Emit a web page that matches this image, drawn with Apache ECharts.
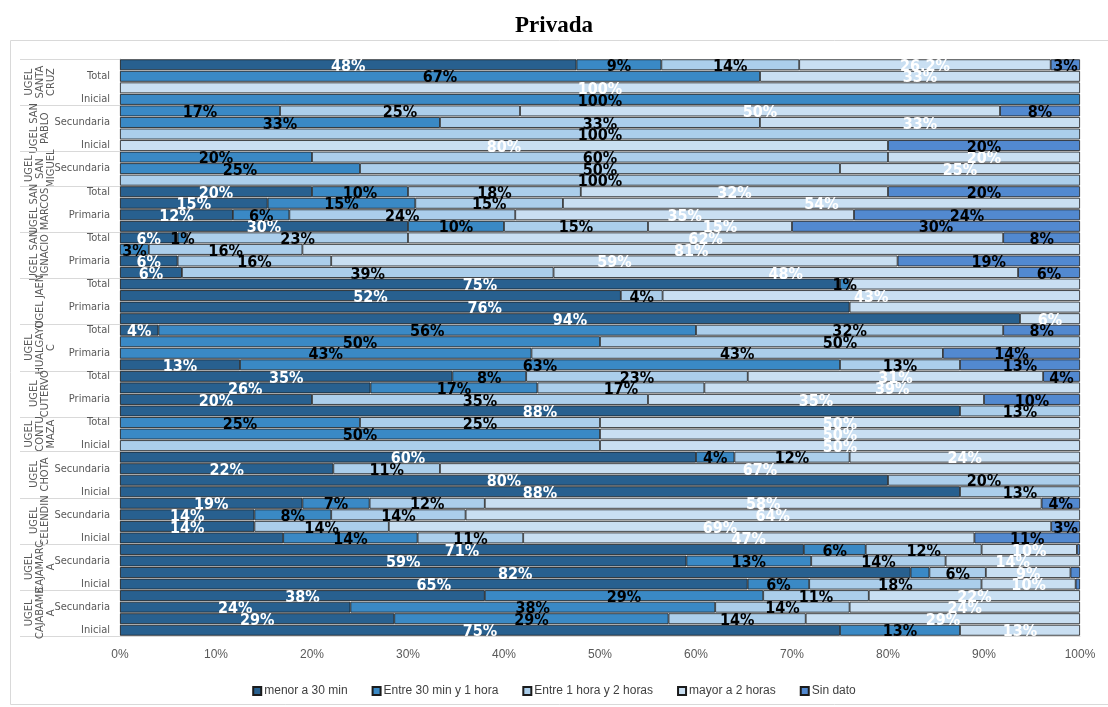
<!DOCTYPE html>
<html><head><meta charset="utf-8">
<script src="https://cdn.jsdelivr.net/npm/echarts/dist/echarts.min.js"></script>
<style>html,body{margin:0;padding:0;background:#fff}#c{width:1108px;height:707px}</style>
</head><body><div id="c"></div>
<script>
// ---- data (rows listed top to bottom) ----
const seriesNames = ['menor a 30 min', 'Entre 30 min y 1 hora', 'Entre 1 hora y 2 horas', 'mayor a 2 horas', 'Sin dato'];

const groupNames = ['UGEL\nSANTA\nCRUZ', 'UGEL SAN\nPABLO', 'UGEL\nSAN\nMIGUEL', 'UGEL SAN\nMARCOS', 'UGEL SAN\nIGNACIO', 'UGEL JAEN',
  'UGEL\nHUALGAYO\nC', 'UGEL\nCUTERVO', 'UGEL\nCONTU\nMAZA', 'UGEL\nCHOTA', 'UGEL\nCELENDIN', 'UGEL\nCAJAMARC\nA', 'UGEL\nCAJABAMB\nA'];

const groupLevels = [
  ['Total general', 'Total', 'Primaria', 'Inicial'],
  ['Total', 'Secundaria', 'Primaria', 'Inicial'],
  ['Total', 'Secundaria', 'Primaria'],
  ['Total', 'Secundaria', 'Primaria', 'Inicial'],
  ['Total', 'Secundaria', 'Primaria', 'Inicial'],
  ['Total', 'Secundaria', 'Primaria', 'Inicial'],
  ['Total', 'Secundaria', 'Primaria', 'Inicial'],
  ['Total', 'Secundaria', 'Primaria', 'Inicial'],
  ['Total', 'Primaria', 'Inicial'],
  ['Total', 'Secundaria', 'Primaria', 'Inicial'],
  ['Total', 'Secundaria', 'Primaria', 'Inicial'],
  ['Total', 'Secundaria', 'Primaria', 'Inicial'],
  ['Total', 'Secundaria', 'Primaria', 'Inicial']
];

const menor30 = [47.55,0,0,0, 0,0,0,0, 0,0,0, 20,15.38,11.76,30, 6,0,6,6.45, 75,52.17,76,93.75, 4,0,0,12.5,
  34.62,26.09,20,87.5, 0,0,0, 60,22.22,80,87.5, 19,14,14,17, 71.23,59,82.35,65.38, 38,24,28.57,75];
const entre30y1 = [8.84,66.67,0,100, 16.67,33.33,0,0, 20,25,0, 10,15.38,5.88,10, 1,3,0,0, 1,0,0,0, 56,50,42.86,62.5,
  7.69,17.39,0,0, 25,50,0, 4,0,0,0, 7,8,0,14, 6.45,13,1.96,6.41, 29,38,28.57,12.5];
const entre1y2 = [14.36,0,0,0, 25,33.33,100,0, 60,50,100, 18,15.38,23.53,15, 23,16,16,38.71, 0,4.35,0,0, 32,50,42.86,12.5,
  23.08,17.39,35,12.5, 25,0,50, 12,11.11,20,12.5, 12,14,14,11, 12.07,14,5.88,17.95, 11,14,14.29,0];
const mayor2 = [26.2,33.33,100,0, 50,33.34,0,80, 20,25,0, 32,53.86,35.29,15, 62,81,59,48.39, 24,43.48,24,6.25, 0,0,0,0,
  30.77,39.13,35,0, 50,50,50, 24,66.67,0,0, 58,64,69,47, 9.93,14,8.82,9.81, 22,24,28.57,12.5];
const sinDato = [3.05,0,0,0, 8.33,0,0,20, 0,0,0, 20,0,23.54,30, 8,0,19,6.45, 0,0,0,0, 8,0,14.28,12.5,
  3.84,0,10,0, 0,0,0, 0,0,0,0, 4,0,3,11, 0.32,0,0.99,0.45, 0,0,0,0];

// labels not printed in the original: [row, series]
const hiddenLabels = [[19,3],[21,3],[33,2],[41,0],[44,1],[44,4]];

const xTicks = [0,10,20,30,40,50,60,70,80,90,100];

// ---- build ----
const categories = [];
groupLevels.forEach((lv, gi) => lv.forEach(l => categories.push(gi + '|' + l)));
const seriesData = [menor30, entre30y1, entre1y2, mayor2, sinDato];
const colors = ['#28608F', '#3A89C5', '#ABCEEB', '#C9DFF2', '#5289D0'];
const labelColors = ['#ffffff', '#000000', '#000000', '#ffffff', '#000000'];
const NARROW = "'Liberation Sans Narrow', 'DejaVu Sans Condensed', sans-serif";

function fmtPct(v) {
  const s = String(v);
  const dec = s.includes('.') ? s.split('.')[1].length : 0;
  if (dec === 1 && !s.endsWith('.5')) return v.toFixed(1) + '%';
  return Math.round(v) + '%';
}

const series = seriesNames.map((name, si) => ({
  name, type: 'bar', stack: 'all',
  barCategoryGap: '6%',
  itemStyle: { color: colors[si], borderColor: '#1b1b1b', borderWidth: 0.8 },
  label: {
    show: true, position: 'inside', offset: [0, 2],
    color: labelColors[si], fontFamily: NARROW, fontWeight: 'bold', fontSize: 16,
    formatter: p => fmtPct(p.value)
  },
  data: seriesData[si].map((v, ri) => {
    if (!v) return '-';
    const hide = Math.round(v) === 0 || hiddenLabels.some(h => h[0] === ri && h[1] === si);
    return hide ? { value: v, label: { show: false } } : v;
  })
}));

const chart = echarts.init(document.getElementById('c'));
chart.setOption({
  animation: false,
  color: colors,
  title: { text: 'Privada', left: 'center', top: 10,
    textStyle: { fontFamily: "'Liberation Serif', serif", fontSize: 23, fontWeight: 'bold', color: '#000' } },
  grid: { left: 120, right: 28, top: 59, bottom: 71 },
  legend: {
    data: seriesNames, top: 680, left: 'center', icon: 'rect', itemWidth: 8, itemHeight: 8, itemGap: 24,
    textStyle: { fontFamily: "'Liberation Sans', sans-serif", fontSize: 12, color: '#404040', padding: [0, 0, 0, -2] }
  },
  xAxis: {
    type: 'value', min: xTicks[0], max: xTicks[xTicks.length - 1], interval: xTicks[1] - xTicks[0],
    axisLine: { show: true, lineStyle: { color: '#d9d9d9' } },
    axisTick: { show: false }, splitLine: { show: false },
    axisLabel: { formatter: '{value}%', color: '#595959', fontSize: 12, margin: 13, fontFamily: "'Liberation Sans', sans-serif" }
  },
  yAxis: {
    type: 'category', inverse: true, data: categories,
    axisLine: { show: true, lineStyle: { color: '#d9d9d9' } },
    axisTick: { show: false },
    axisLabel: { interval: (i) => i % 2 === 1, formatter: v => v.split('|')[1],
      color: '#595959', fontSize: 11, fontFamily: NARROW, margin: 10 }
  },
  series
});

// group labels and separators, placed from the category axis
(function () {
  const p0 = chart.convertToPixel({ yAxisIndex: 0 }, 0);
  const p1 = chart.convertToPixel({ yAxisIndex: 0 }, 1);
  const band = p1 - p0;
  const left = chart.convertToPixel({ xAxisIndex: 0 }, 0);
  const els = [{ type: 'rect', z: -10, shape: { x: 10.5, y: 40.5, width: 1110, height: 664 },
    style: { fill: 'none', stroke: '#d9d9d9', lineWidth: 1 } }];
  let start = 0;
  groupLevels.forEach((lv, gi) => {
    const top = chart.convertToPixel({ yAxisIndex: 0 }, start) - band / 2;
    const bottom = top + band * lv.length;
    els.push({ type: 'line', shape: { x1: 20, y1: Math.round(top) + 0.5, x2: left, y2: Math.round(top) + 0.5 },
      style: { stroke: '#d9d9d9', lineWidth: 1 } });
    if (gi === groupLevels.length - 1) {
      els.push({ type: 'line', shape: { x1: 20, y1: Math.round(bottom) + 0.5, x2: left, y2: Math.round(bottom) + 0.5 },
        style: { stroke: '#d9d9d9', lineWidth: 1 } });
    }
    els.push({ type: 'text', x: 40, y: (top + bottom) / 2, rotation: Math.PI / 2,
      style: { text: groupNames[gi], fill: '#595959', font: "11px 'Liberation Sans Narrow', 'DejaVu Sans Condensed', sans-serif",
        textAlign: 'center', textVerticalAlign: 'middle', lineHeight: 11 } });
    start += lv.length;
  });
  chart.setOption({ graphic: els });
})();
</script>
</body></html>
